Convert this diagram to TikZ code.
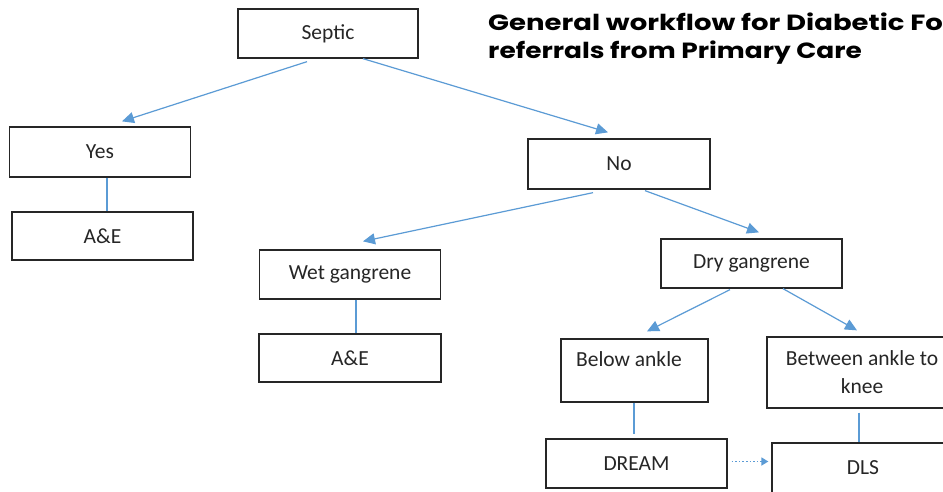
\documentclass[tikz,border=0pt]{standalone}
\usepackage{fontspec}
\setmainfont{Carlito}
\newfontfamily\titlefont{Poppins}
\usetikzlibrary{arrows.meta,calc}
\definecolor{arrowblue}{HTML}{5B9BD5}
\definecolor{boxline}{HTML}{262626}
\tikzset{
  box/.style={draw=boxline, line width=1.3pt, fill=white, inner sep=2pt, font=\fontsize{21.5}{28}\selectfont, align=center, text=black!85},
  flow/.style={draw=arrowblue, line width=1.2pt, -{Triangle[length=12pt,width=11pt]}},
  link/.style={draw=arrowblue, line width=1.2pt},
  dotflow/.style={draw=arrowblue, line width=1.6pt, dotted, -{Triangle[length=7pt,width=8pt]}},
  titletext/.style={font=\titlefont\bfseries\fontsize{22}{28}\selectfont, anchor=base west, inner sep=0pt, text=black}
}
\begin{document}
\begin{tikzpicture}[x=1pt,y=-1pt]
\useasboundingbox (0,0) rectangle (943,491);
\clip (0,0) rectangle (943,491);
\fill[white] (0,0) rectangle (943,491);

% title
\node[titletext] (title1) at (488,30) {\scalebox{1.25}[1]{General workflow for Diabetic Foot}};
\node[titletext] (title2) at (488,58) {\scalebox{1.2}[1]{referrals from Primary Care}};

% boxes
\node[box, minimum width=180pt, minimum height=49pt] (septic) at (328,33.5) {Septic};
\node[box, minimum width=181pt, minimum height=50pt] (yes) at (100,152) {Yes};
\node[box, minimum width=181pt, minimum height=48pt] (ae1) at (102.5,236) {A\&E};
\node[box, minimum width=182pt, minimum height=50pt] (no) at (619,164) {No};
\node[box, minimum width=181pt, minimum height=49pt] (wet) at (350,274.5) {Wet gangrene};
\node[box, minimum width=182pt, minimum height=48pt] (ae2) at (350,358) {A\&E};
\node[box, minimum width=181pt, minimum height=49pt] (dry) at (751.5,263.5) {Dry gangrene};
\node[box, minimum width=147pt, minimum height=63pt, text depth=22pt] (below) at (634.5,370.5) {\hspace*{-11pt}Below ankle};
\node[box, minimum width=190pt, minimum height=71pt] (between) at (862,372.5) {Between ankle to\\knee};
\node[box, minimum width=181pt, minimum height=49pt] (dream) at (636.5,463.5) {DREAM};
\node[box, minimum width=182pt, minimum height=50pt] (dls) at (863,468) {DLS};

% connectors
\draw[flow] ($(septic.south)+(-21,3)$) -- ($(yes.north)+(22,-5)$);
\draw[flow] ($(septic.south)+(35,0)$) -- ($(no.north)+(-11,-6)$);
\draw[link] ($(yes.south)+(7,0)$) -- ($(ae1.north)+(4.5,0)$);
\draw[flow] ($(no.south)+(-26,3)$) -- ($(wet.north)+(13,-8)$);
\draw[flow] ($(no.south)+(26,1)$) -- ($(dry.north)+(7.5,-6)$);
\draw[link] ($(wet.south)+(6,0)$) -- ($(ae2.north)+(6,0)$);
\draw[flow] ($(dry.south)+(-21.5,1)$) -- ($(below.north)+(12.5,-7)$);
\draw[flow] ($(dry.south)+(31.5,0)$) -- ($(between.north)+(-5,-6)$);
\draw[link] ($(below.south)+(-0.5,0)$) -- ($(dream.north)+(-2.5,-4)$);
\draw[link] ($(between.south)+(-3,4)$) -- ($(dls.north)+(-4,0)$);
\draw[dotflow] ($(dream.east)+(4,-2)$) -- ($(dls.west)+(-3,-6.5)$);
\end{tikzpicture}
\end{document}
